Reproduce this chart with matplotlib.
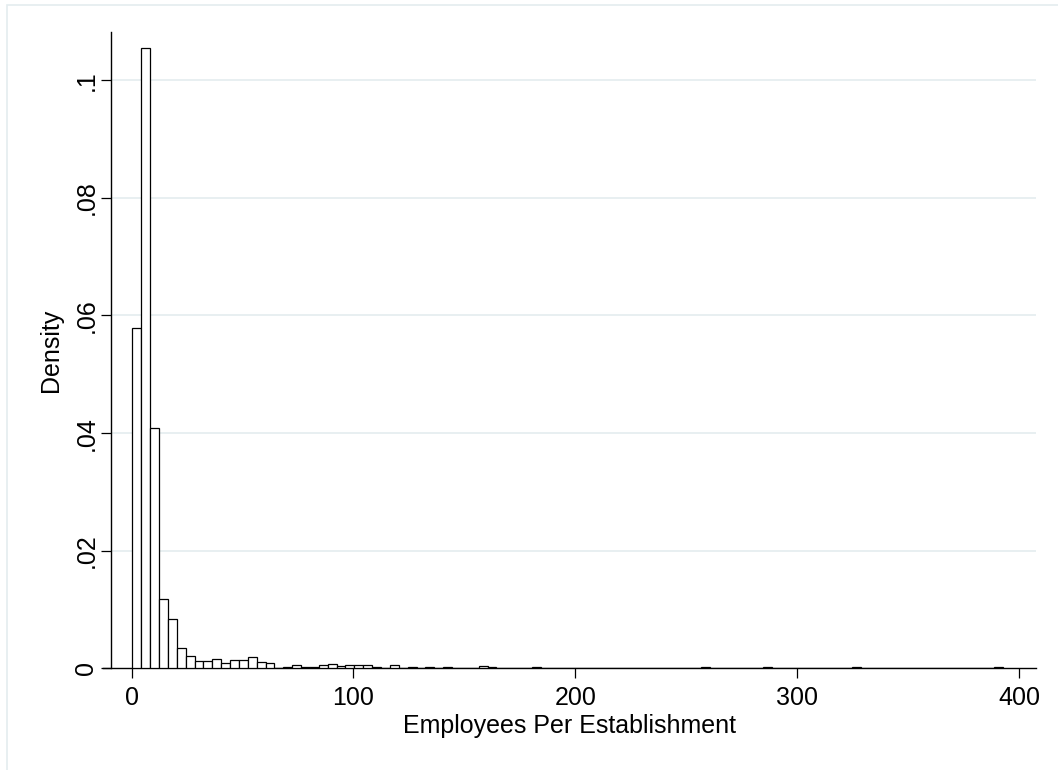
import numpy as np
import matplotlib
matplotlib.use("Agg")
import matplotlib.pyplot as plt
from matplotlib.patches import Rectangle

# histogram of employees per establishment, 98 bins
bin_start = 0.3
bin_width = 4.004
density = [
    0.0578, 0.1054, 0.0408, 0.0118, 0.0084, 0.0035, 0.0021, 0.0012, 0.0012, 0.0015,
    0.00085, 0.0014, 0.0014, 0.0020, 0.0011, 0.00085, 0.0, 0.0002, 0.0006, 0.0002,
    0.0003, 0.0006, 0.0007, 0.0004, 0.0005, 0.0005, 0.0005, 0.0003, 0.0, 0.0005,
    0.0, 0.0002, 0.0, 0.0003, 0.0, 0.0002, 0.0, 0.0, 0.0, 0.0004,
    0.0002, 0.0, 0.0, 0.0, 0.0, 0.0002, 0.0, 0.0, 0.0, 0.0,
    0.0, 0.0, 0.0, 0.0, 0.0, 0.0, 0.0, 0.0, 0.0, 0.0,
    0.0, 0.0, 0.0, 0.0, 0.0003, 0.0, 0.0, 0.0, 0.0, 0.0,
    0.0, 0.0002, 0.0, 0.0, 0.0, 0.0, 0.0, 0.0, 0.0, 0.0,
    0.0, 0.0002, 0.0, 0.0, 0.0, 0.0, 0.0, 0.0, 0.0, 0.0,
    0.0, 0.0, 0.0, 0.0, 0.0, 0.0, 0.0, 0.0002,
]
x_ticks = [0, 100, 200, 300, 400]
y_ticks = [0, 0.02, 0.04, 0.06, 0.08, 0.1]
y_labels = ["0", ".02", ".04", ".06", ".08", ".1"]

plt.rcParams["font.family"] = ["Liberation Sans", "DejaVu Sans"]

W, H = 1058, 770
fig = plt.figure(figsize=(W / 100, H / 100), dpi=100)

# light outer frame like the Stata graph region (only top and left show)
fig.patches.append(Rectangle((7 / W, -0.1), 1.0, 1.1 - 5 / H, transform=fig.transFigure,
                             fill=False, edgecolor="#e4ecef", linewidth=1.2))

ax = fig.add_axes([103 / W, (H - 668.3) / H, (1036 - 103) / W, (668.3 - 32) / H])

lefts = bin_start + bin_width * np.arange(len(density))
ax.bar(lefts, density, width=bin_width, align="edge", color="white",
       edgecolor="black", linewidth=0.9, zorder=3)

ax.set_xlim(-12.92, 407.67)
ax.set_ylim(0, 0.1082)

# horizontal grid lines, none at zero
for yv in y_ticks[1:]:
    ax.axhline(yv, xmin=(111.5 - 103) / (1036 - 103), color="#e6eef0", linewidth=1.3, zorder=1)

ax.spines["top"].set_visible(False)
ax.spines["right"].set_visible(False)
ax.spines["left"].set_position(("data", -9.09))
ax.spines["left"].set_linewidth(1.0)
ax.spines["bottom"].set_linewidth(1.0)

ax.set_xticks(x_ticks)
ax.set_yticks(y_ticks)
ax.set_yticklabels(y_labels, rotation=90, va="center")
ax.tick_params(axis="both", direction="out", length=7.5, width=0.9, labelsize=18)
ax.tick_params(axis="x", pad=5)
ax.tick_params(axis="y", pad=2)

ax.set_xlabel("Employees Per Establishment", fontsize=18, labelpad=3)
ax.set_ylabel("Density", fontsize=18, labelpad=8)

fig.savefig("out.png", dpi=100, facecolor="white")
